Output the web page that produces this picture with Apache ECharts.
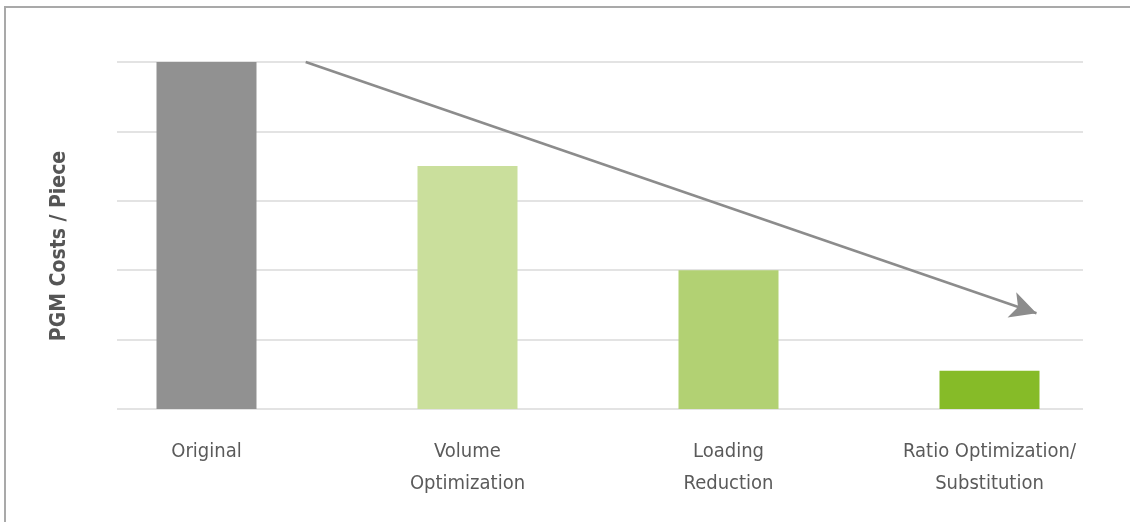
<!DOCTYPE html>
<html>
<head>
<meta charset="utf-8">
<script src="https://cdn.jsdelivr.net/npm/echarts@6/dist/echarts.min.js"></script>
<style>
  html, body { margin: 0; padding: 0; background: #fff; }
  #main { width: 1130px; height: 522px; }
</style>
</head>
<body>
<div id="main"></div>
<script>
// data
const categories = ['Original', 'Volume\nOptimization', 'Loading\nReduction', 'Ratio Optimization/\nSubstitution'];
const costs = [5, 3.5, 2, 0.55];
const barColors = ['#919191', '#cadf9c', '#b2d173', '#86bb28'];
// trend arrow, in (category position, value)
const arrowStart = [0.38, 5];
const arrowEnd = [3.18, 1.38];

const labelFont = '"DejaVu Sans Condensed", "Liberation Sans Narrow", sans-serif';

let myChart = echarts.init(document.getElementById('main'));

let option = {
    animation: false,
    grid: [
        { left: 76, right: 10, top: 62, bottom: 113 },
        { left: 117, right: 47, top: 62, bottom: 113 }
    ],
    xAxis: [{
        type: 'category',
        gridIndex: 0,
        data: categories,
        axisLine: { show: false },
        axisTick: { show: false },
        axisLabel: {
            color: '#5a5a5a',
            fontFamily: labelFont,
            fontSize: 20,
            lineHeight: 32,
            margin: 27,
            interval: 0
        }
    }, {
        type: 'value',
        gridIndex: 0,
        min: -0.5,
        max: 3.5,
        show: false
    }, {
        type: 'value',
        gridIndex: 1,
        show: false
    }],
    yAxis: [{
        type: 'value',
        gridIndex: 0,
        min: 0,
        max: 5,
        interval: 1,
        show: false
    }, {
        type: 'value',
        gridIndex: 1,
        min: 0,
        max: 5,
        interval: 1,
        axisLabel: { show: false },
        axisLine: { show: false },
        axisTick: { show: false },
        splitLine: { lineStyle: { color: '#e3e3e3', width: 2 } }
    }],
    graphic: [{
        type: 'polyline',
        shape: { points: [[5, 530], [5, 7], [1140, 7]] },
        style: { stroke: '#a9a9a9', lineWidth: 2, fill: null },
        z: 100
    }, {
        type: 'text',
        x: 60,
        y: 246,
        rotation: Math.PI / 2,
        style: {
            text: 'PGM Costs / Piece',
            fill: '#555',
            font: 'bold 21px ' + labelFont,
            align: 'center',
            verticalAlign: 'middle'
        }
    }],
    series: [{
        type: 'bar',
        xAxisIndex: 0,
        yAxisIndex: 0,
        barWidth: 100,
        z: 3,
        data: costs.map((v, i) => ({ value: v, itemStyle: { color: barColors[i] } }))
    }, {
        type: 'line',
        xAxisIndex: 1,
        yAxisIndex: 0,
        data: [arrowStart, arrowEnd],
        showSymbol: false,
        lineStyle: { opacity: 0 },
        silent: true,
        z: 5,
        markLine: {
            silent: true,
            symbol: ['none', 'arrow'],
            symbolSize: [20, 26],
            label: { show: false },
            lineStyle: { color: '#8c8c8c', width: 2.5, type: 'solid' },
            data: [[{ coord: arrowStart }, { coord: arrowEnd }]]
        }
    }]
};

myChart.setOption(option);
</script>
</body>
</html>
